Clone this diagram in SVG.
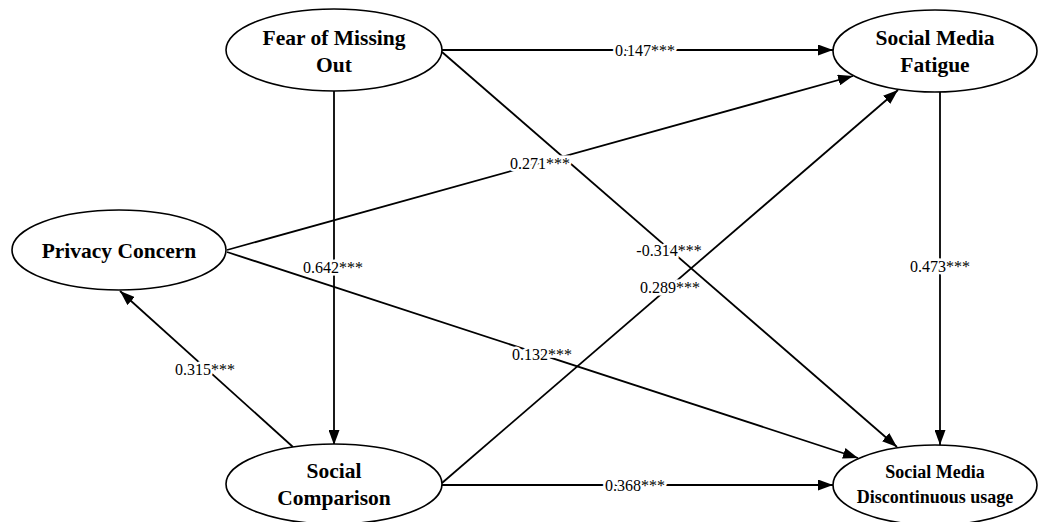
<svg xmlns="http://www.w3.org/2000/svg" width="1041" height="522" viewBox="0 0 1041 522">
<style>
.node ellipse{fill:#fff;stroke:#000;stroke-width:1.6}
.nt{font-weight:bold;font-size:21.5px;text-anchor:middle;fill:#000}
.nts{font-size:18px}
.edge{stroke:#000;stroke-width:1.8;fill:none;marker-end:url(#ah)}
.lbl{font-size:16px;text-anchor:middle;dominant-baseline:central;fill:#000;stroke:#fff;stroke-width:5;paint-order:stroke}
</style>
<defs>
<marker id="ah" markerWidth="15" markerHeight="11" refX="15" refY="5.5" orient="auto" markerUnits="userSpaceOnUse">
<path d="M0,0 L15,5.5 L0,11 z" fill="#000"/>
</marker>
</defs>
<rect width="1041" height="522" fill="#fff"/>
<g id="connectors" font-family="Liberation Serif, Tinos, Times New Roman, Times, DejaVu Serif, serif">
<line class="edge" x1="442" y1="50" x2="833" y2="50"/>
<line class="edge" x1="334" y1="91" x2="334" y2="445"/>
<line class="edge" x1="442" y1="52" x2="897" y2="447"/>
<line class="edge" x1="227" y1="250" x2="853" y2="76"/>
<line class="edge" x1="227" y1="252" x2="858" y2="458"/>
<line class="edge" x1="293" y1="447" x2="120" y2="291"/>
<line class="edge" x1="442" y1="483" x2="898" y2="90"/>
<line class="edge" x1="442" y1="485" x2="833" y2="485"/>
<line class="edge" x1="940" y1="92" x2="940" y2="445"/>
<text class="lbl" x="645" y="50">0.147***</text>
<text class="lbl" x="333" y="267">0.642***</text>
<text class="lbl" x="669" y="250">-0.314***</text>
<text class="lbl" x="540" y="163">0.271***</text>
<text class="lbl" x="542" y="354">0.132***</text>
<text class="lbl" x="205" y="369">0.315***</text>
<text class="lbl" x="670" y="287">0.289***</text>
<text class="lbl" x="635" y="485">0.368***</text>
<text class="lbl" x="940" y="266">0.473***</text>
</g>
<g font-family="Liberation Serif, Tinos, Times New Roman, Times, DejaVu Serif, serif">
<g id="fomo" class="node">
<ellipse cx="334" cy="50" rx="108" ry="41"/>
<text class="nt" x="334" y="45">Fear of Missing</text>
<text class="nt" x="334" y="72">Out</text>
</g>
<g id="smf" class="node">
<ellipse cx="935" cy="51" rx="102" ry="41"/>
<text class="nt" x="935" y="45">Social Media</text>
<text class="nt" x="935" y="72">Fatigue</text>
</g>
<g id="pc" class="node">
<ellipse cx="119" cy="250" rx="107" ry="40"/>
<text class="nt" x="119" y="258">Privacy Concern</text>
</g>
<g id="sc" class="node">
<ellipse cx="334" cy="484" rx="108" ry="40"/>
<text class="nt" x="334" y="478">Social</text>
<text class="nt" x="334" y="505">Comparison</text>
</g>
<g id="smdu" class="node">
<ellipse cx="935" cy="485" rx="102" ry="40"/>
<text class="nt nts" x="935" y="478">Social Media</text>
<text class="nt nts" x="935" y="503">Discontinuous usage</text>
</g>
</g>
</svg>
